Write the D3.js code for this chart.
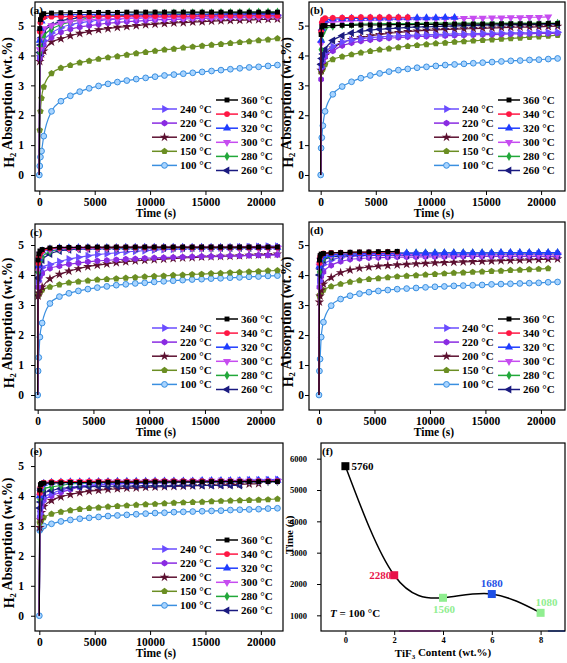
<!DOCTYPE html>
<html><head><meta charset="utf-8">
<script src="https://cdn.jsdelivr.net/npm/d3@7"></script>
<style>
body{margin:0;background:#fff;}
svg text{font-family:"Liberation Serif","Times New Roman",serif;font-weight:bold;fill:#000;}
</style></head><body>
<svg id="chart" width="567" height="663"></svg>
<script>
// ---------------- DATA ----------------
const times = [0,40,100,200,400,1100,1950,2800,3650,4500,5350,6200,7050,7900,8750,9600,10450,11300,12150,13000,13850,14700,15550,16400,17250,18100,18950,19800,20650,21500];
const tempLabels = ["360 °C","340 °C","320 °C","300 °C","280 °C","260 °C","240 °C","220 °C","200 °C","150 °C","100 °C"];
const xTicks = [0,5000,10000,15000,20000];
const yTicks = [0,1,2,3,4,5];

// panel (a)
const a360 = [0,4.9,5.2,5.35,5.4,5.42,5.43,5.43,5.44,5.44,5.44,5.44,5.44,5.45,5.45,5.45,5.45,5.45,5.45,5.45,5.45,5.45,5.45,5.45,5.45,5.45,5.45,5.45,5.45,5.45];
const a340 = [0,4.8,5.1,5.25,5.28,5.3,5.3,5.3,5.31,5.31,5.31,5.31,5.31,5.31,5.32,5.32,5.32,5.32,5.32,5.32,5.32,5.33,5.33,5.33,5.33,5.33,5.33,5.33,5.33,5.33];
const a320 = [0,4.5,4.9,5.15,5.3,5.35,5.36,5.37,5.37,5.37,5.38,5.38,5.38,5.38,5.38,5.38,5.38,5.38,5.38,5.38,5.38,5.38,5.38,5.38,5.38,5.38,5.38,5.38,5.38,5.38];
const a300 = [0,4.2,4.5,4.75,4.9,5.0,5.08,5.13,5.17,5.2,5.22,5.23,5.24,5.25,5.25,5.26,5.26,5.27,5.27,5.27,5.28,5.28,5.28,5.28,5.29,5.29,5.29,5.29,5.3,5.3];
const a280 = [0,4.1,4.3,4.5,4.65,4.88,5.03,5.12,5.2,5.25,5.29,5.32,5.35,5.37,5.38,5.39,5.4,5.41,5.42,5.42,5.43,5.43,5.43,5.44,5.44,5.44,5.45,5.45,5.45,5.45];
const a260 = [0,4.1,4.35,4.6,4.8,5.0,5.15,5.22,5.27,5.3,5.32,5.33,5.34,5.35,5.35,5.36,5.36,5.37,5.37,5.37,5.38,5.38,5.38,5.39,5.39,5.39,5.4,5.4,5.4,5.4];
const a240 = [0,4.0,4.2,4.35,4.5,4.75,4.93,5.03,5.1,5.14,5.18,5.2,5.22,5.24,5.25,5.26,5.27,5.28,5.29,5.3,5.3,5.31,5.31,5.32,5.32,5.33,5.33,5.34,5.34,5.35];
const a220 = [0,3.9,4.05,4.2,4.35,4.6,4.78,4.88,4.95,5.0,5.04,5.08,5.11,5.13,5.15,5.17,5.19,5.2,5.21,5.22,5.23,5.24,5.25,5.26,5.27,5.27,5.28,5.28,5.29,5.3];
const a200 = [0,3.8,3.95,4.05,4.15,4.45,4.56,4.66,4.74,4.8,4.86,4.9,4.94,4.97,5.0,5.03,5.05,5.07,5.09,5.1,5.12,5.13,5.15,5.16,5.17,5.18,5.19,5.2,5.21,5.22];
const a150 = [0,1.5,2.13,2.57,2.95,3.4,3.58,3.67,3.76,3.82,3.88,3.93,3.97,4.02,4.07,4.11,4.15,4.19,4.22,4.26,4.29,4.32,4.35,4.38,4.41,4.44,4.47,4.5,4.53,4.57];
const a100 = [0,0.3,0.6,0.8,1.3,2.13,2.47,2.65,2.79,2.9,2.98,3.05,3.11,3.16,3.21,3.25,3.29,3.33,3.36,3.39,3.42,3.45,3.48,3.51,3.54,3.57,3.6,3.62,3.65,3.68];

// panel (b)
const b360 = [0,4.7,4.95,5.0,5.0,5.0,5.01,5.01,5.02,5.02,5.02,5.03,5.03,5.03,5.04,5.04,5.04,5.04,5.05,5.05,5.05,5.05,5.05,5.06,5.06,5.06,5.06,5.06,5.07,5.07];
const b340 = [0,4.8,5.1,5.2,5.25,5.26,5.27,5.27,5.28,5.28,5.28,5.28,5.28,5.28];
const b320 = [0,4.5,4.9,5.1,5.18,5.22,5.23,5.24,5.24,5.25,5.25,5.25,5.26,5.26,5.26,5.26,5.26,5.27,5.27];
const b300 = [0,4.4,4.8,5.0,5.08,5.12,5.14,5.16,5.17,5.18,5.19,5.2,5.21,5.21,5.22,5.22,5.23,5.23,5.24,5.24,5.25,5.25,5.26,5.26,5.27,5.27,5.28,5.28,5.29];
const b280 = [0,4.2,4.5,4.75,4.9,4.98,5.02,5.04,5.05,5.06,5.06,5.07,5.07,5.07,5.07,5.08,5.08,5.08,5.08,5.08,5.08,5.08,5.08,5.08,5.08,5.08,5.08,5.08,5.08,5.08];
const b260 = [0,3.7,3.9,4.05,4.2,4.5,4.66,4.75,4.81,4.85,4.88,4.9,4.92,4.94,4.95,4.96,4.97,4.98,4.99,5.0,5.0,5.01,5.02,5.02,5.03,5.03,5.04,5.04,5.05,5.05];
const b240 = [0,3.6,3.8,3.95,4.1,4.3,4.45,4.52,4.57,4.6,4.62,4.64,4.66,4.67,4.68,4.69,4.7,4.71,4.72,4.72,4.73,4.74,4.74,4.75,4.75,4.76,4.76,4.77,4.77,4.78];
const b220 = [0,3.2,3.6,3.8,3.95,4.15,4.33,4.42,4.48,4.52,4.55,4.58,4.6,4.62,4.63,4.64,4.65,4.66,4.67,4.68,4.69,4.7,4.7,4.71,4.72,4.72,4.73,4.74,4.74,4.75];
const b200 = [0,3.5,3.7,3.85,4.0,4.25,4.43,4.53,4.6,4.66,4.7,4.74,4.77,4.8,4.82,4.84,4.86,4.87,4.88,4.89,4.9,4.91,4.92,4.93,4.94,4.95,4.95,4.96,4.97,4.98];
const b150 = [0,3.45,3.5,3.55,3.7,3.87,3.96,4.03,4.09,4.14,4.19,4.23,4.27,4.31,4.34,4.37,4.4,4.42,4.45,4.47,4.49,4.51,4.53,4.55,4.57,4.59,4.61,4.63,4.65,4.68];
const b100 = [0,0.9,1.25,1.65,2.13,2.7,2.96,3.12,3.24,3.33,3.4,3.46,3.51,3.55,3.59,3.62,3.65,3.68,3.7,3.72,3.74,3.76,3.78,3.8,3.82,3.83,3.85,3.86,3.88,3.9];

// panel (c)
const c360 = [0,4.5,4.7,4.8,4.85,4.9,4.92,4.92,4.92,4.93,4.93,4.93,4.93,4.93,4.93,4.93,4.93,4.93,4.93,4.93,4.93,4.93,4.93,4.93,4.93,4.93,4.93,4.93,4.93,4.93];
const c340 = [0,4.4,4.6,4.7,4.8,4.88,4.9,4.9,4.91,4.91,4.91,4.91,4.92,4.92,4.92,4.92,4.92,4.92,4.92,4.92,4.92,4.92,4.92,4.92,4.92,4.92,4.92,4.92,4.92,4.92];
const c320 = [0,4.3,4.55,4.7,4.8,4.87,4.9,4.9,4.91,4.91,4.91,4.91,4.91,4.92,4.92,4.92,4.92,4.92,4.92,4.92,4.92,4.92,4.92,4.92,4.92,4.92,4.92,4.92,4.92,4.92];
const c300 = [0,4.2,4.5,4.7,4.8,4.85,4.88,4.88,4.89,4.89,4.89,4.9,4.9,4.9,4.9,4.9,4.9,4.9,4.9,4.9,4.9,4.9,4.9,4.9,4.9,4.9,4.9,4.9,4.9,4.9];
const c280 = [0,4.1,4.25,4.45,4.6,4.78,4.85,4.87,4.88,4.88,4.88,4.88,4.88,4.88,4.88,4.89,4.89,4.89,4.89,4.89,4.89,4.89,4.89,4.89,4.89,4.89,4.89];
const c260 = [0,3.9,4.1,4.3,4.5,4.7,4.8,4.84,4.86,4.87,4.88,4.88,4.89,4.89,4.89,4.9,4.9,4.9,4.9,4.9,4.9,4.9,4.9,4.9,4.9,4.9,4.9,4.9,4.9,4.9];
const c240 = [0,3.8,4.0,4.15,4.25,4.35,4.45,4.53,4.59,4.64,4.68,4.71,4.74,4.77,4.79,4.81,4.83,4.85,4.86,4.87,4.88,4.89,4.9,4.91,4.92,4.93,4.94,4.95,4.96,4.96];
const c220 = [0,3.6,3.8,3.95,4.05,4.22,4.3,4.36,4.4,4.44,4.47,4.49,4.51,4.53,4.54,4.56,4.57,4.58,4.59,4.6,4.61,4.62,4.62,4.63,4.64,4.64,4.65,4.66,4.66,4.67];
const c200 = [0,3.3,3.4,3.5,3.6,3.87,4.02,4.13,4.21,4.28,4.33,4.37,4.41,4.44,4.47,4.49,4.51,4.53,4.55,4.57,4.58,4.6,4.61,4.62,4.63,4.64,4.66,4.67,4.68,4.7];
const c150 = [0,3.3,3.35,3.42,3.5,3.6,3.68,3.74,3.78,3.81,3.84,3.86,3.88,3.9,3.92,3.94,3.96,3.97,3.99,4.0,4.02,4.03,4.05,4.06,4.08,4.09,4.11,4.12,4.14,4.15];
const c100 = [0,0.8,1.25,1.93,2.4,3.05,3.28,3.39,3.47,3.53,3.58,3.62,3.66,3.69,3.72,3.74,3.77,3.79,3.81,3.83,3.85,3.86,3.88,3.89,3.91,3.92,3.94,3.95,3.97,3.98];

// panel (d)
const d360 = [0,4.5,4.65,4.7,4.72,4.74,4.75,4.76,4.77,4.77,4.78,4.78,4.79];
const d340 = [0,4.4,4.6,4.68,4.72,4.74,4.75,4.75,4.76,4.76,4.76,4.77,4.77];
const d320 = [0,4.3,4.5,4.6,4.65,4.68,4.7,4.71,4.71,4.72,4.72,4.72,4.73,4.73,4.73,4.73,4.73,4.74,4.74,4.74,4.74,4.74,4.74,4.75,4.75,4.75,4.75,4.75,4.75,4.75];
const d300 = [0,4.3,4.5,4.6,4.65,4.66,4.67,4.67,4.68,4.68,4.68,4.68,4.68,4.68,4.68,4.68,4.68,4.68,4.68,4.68,4.68,4.68,4.68,4.68,4.68,4.68,4.68,4.68,4.68,4.68];
const d280 = [0,4.1,4.3,4.45,4.55,4.62,4.67,4.7,4.71,4.72,4.72,4.73,4.73,4.73,4.74,4.74,4.74,4.74,4.74,4.74,4.74,4.74,4.74,4.74,4.74,4.74,4.74,4.74,4.74,4.74];
const d260 = [0,4.0,4.2,4.35,4.5,4.6,4.63,4.65,4.66,4.66,4.67,4.67,4.67,4.67,4.68,4.68,4.68,4.68,4.68,4.68,4.68,4.68,4.68,4.68,4.68,4.68,4.68,4.68,4.68,4.68];
const d240 = [0,3.8,4.0,4.2,4.35,4.5,4.58,4.62,4.64,4.65,4.66,4.66,4.67,4.67,4.67,4.68,4.68,4.68,4.68,4.69,4.69,4.69,4.69,4.69,4.7,4.7,4.7,4.7,4.7,4.7];
const d220 = [0,3.6,3.8,3.95,4.1,4.32,4.45,4.52,4.55,4.57,4.58,4.59,4.6,4.6,4.6,4.61,4.61,4.61,4.61,4.62,4.62,4.62,4.62,4.62,4.62,4.62,4.62,4.62,4.62,4.62];
const d200 = [0,3.1,3.3,3.5,3.7,3.92,4.08,4.17,4.23,4.27,4.3,4.32,4.34,4.36,4.38,4.39,4.41,4.42,4.43,4.44,4.45,4.46,4.47,4.48,4.49,4.5,4.51,4.52,4.53,4.54];
const d150 = [0,3.3,3.35,3.42,3.5,3.62,3.7,3.77,3.82,3.86,3.89,3.92,3.95,3.97,3.99,4.01,4.03,4.05,4.07,4.08,4.1,4.11,4.13,4.14,4.16,4.17,4.19,4.2,4.22];
const d100 = [0,0.8,1.2,1.93,2.43,2.98,3.2,3.31,3.38,3.43,3.47,3.5,3.53,3.55,3.57,3.59,3.61,3.62,3.64,3.65,3.66,3.67,3.69,3.7,3.71,3.72,3.73,3.74,3.76,3.77];

// panel (e)
const e360 = [0,4.2,4.38,4.42,4.43,4.44,4.44,4.45,4.45,4.45,4.46,4.46,4.46,4.46,4.46,4.47,4.47,4.47,4.47,4.47,4.47,4.47,4.48,4.48,4.48,4.48,4.48,4.48,4.48,4.48];
const e340 = [0,4.1,4.3,4.4,4.45,4.47,4.48,4.48,4.48,4.49,4.49,4.49,4.49,4.49,4.49,4.49,4.5,4.5,4.5,4.5,4.5,4.5,4.5,4.5,4.5,4.5,4.5,4.5,4.5,4.5];
const e320 = [0,4.0,4.25,4.38,4.42,4.45,4.46,4.47,4.47,4.48,4.48,4.48,4.49,4.49,4.49,4.49,4.5,4.5,4.5,4.5,4.5,4.51,4.51,4.51,4.51,4.51,4.52,4.52,4.52,4.52];
const e300 = [0,4.0,4.2,4.35,4.4,4.45,4.46,4.47,4.47,4.47,4.48,4.48,4.48,4.48,4.48,4.49,4.49,4.49,4.49,4.49,4.49,4.49,4.5,4.5,4.5,4.5,4.5,4.5,4.5,4.5];
const e280 = [0,3.9,4.1,4.2,4.25,4.3,4.35,4.4,4.42,4.43,4.44,4.45,4.45,4.45,4.46,4.46,4.46,4.46,4.47,4.47,4.47,4.47,4.47,4.47,4.48,4.48,4.48,4.48,4.48,4.48];
const e260 = [0,3.6,3.8,4.0,4.1,4.18,4.25,4.28,4.3,4.31,4.32,4.32,4.33,4.33,4.33,4.34,4.34,4.34,4.34,4.35,4.35,4.35,4.35,4.35,4.35,4.35];
const e240 = [0,3.4,3.6,3.8,3.95,4.08,4.2,4.28,4.33,4.36,4.38,4.4,4.41,4.42,4.43,4.44,4.45,4.46,4.47,4.47,4.48,4.49,4.5,4.5,4.51,4.52,4.53,4.53,4.54,4.55];
const e220 = [0,3.3,3.5,3.7,3.85,4.0,4.12,4.22,4.3,4.34,4.37,4.39,4.4,4.41,4.42,4.43,4.44,4.44,4.45,4.45,4.46,4.46,4.47,4.47,4.48,4.48,4.49,4.49,4.5,4.5];
const e200 = [0,2.95,3.2,3.45,3.65,3.85,3.97,4.05,4.11,4.16,4.19,4.22,4.24,4.26,4.27,4.29,4.3,4.31,4.32,4.33,4.34,4.35,4.36,4.37,4.38,4.39,4.4,4.41];
const e150 = [0,3.1,3.15,3.2,3.28,3.4,3.47,3.52,3.56,3.59,3.61,3.64,3.66,3.68,3.7,3.72,3.73,3.75,3.77,3.78,3.79,3.8,3.82,3.83,3.84,3.85,3.86,3.87,3.88,3.9];
const e100 = [0,2.85,2.9,2.95,3.0,3.07,3.15,3.2,3.24,3.27,3.3,3.33,3.35,3.37,3.39,3.41,3.43,3.44,3.46,3.47,3.48,3.49,3.5,3.51,3.53,3.54,3.55,3.56,3.58,3.59];

// panel (f)
const fContent = [0,2,4,6,8];
const fTime = [5760,2280,1560,1680,1080];
const fLabels = ["5760","2280","1560","1680","1080"];
const fXTicks = [0,2,4,6,8];
const fYTicks = [1000,2000,3000,4000,5000,6000];

// ---------------- STYLES ----------------
function poly(n, rot){
  return {draw(ctx,size){
    const r = Math.sqrt(size/(0.5*n*Math.sin(2*Math.PI/n)));
    for(let i=0;i<n;i++){const a=rot+2*Math.PI*i/n;const px=r*Math.sin(a),py=-r*Math.cos(a);i?ctx.lineTo(px,py):ctx.moveTo(px,py);}
    ctx.closePath();
  }};
}
const style = {
  "360 °C":{c:"#000000", sym:d3.symbolSquare, size:24, rot:0},
  "340 °C":{c:"#ff1744", sym:d3.symbolCircle, size:26, rot:0},
  "320 °C":{c:"#1f3cff", sym:d3.symbolTriangle, size:28, rot:0},
  "300 °C":{c:"#c64cf0", sym:d3.symbolTriangle, size:28, rot:180},
  "280 °C":{c:"#22a83a", sym:d3.symbolDiamond, size:24, rot:0},
  "260 °C":{c:"#1a1a80", sym:d3.symbolTriangle, size:28, rot:-90},
  "240 °C":{c:"#6a4cff", sym:d3.symbolTriangle, size:28, rot:90},
  "220 °C":{c:"#8a2be2", sym:poly(6,0), size:28, rot:0},
  "200 °C":{c:"#5c1030", sym:d3.symbolStar, size:28, rot:0},
  "150 °C":{c:"#6b8e23", sym:poly(5,0), size:28, rot:0},
  "100 °C":{c:"#3a8fe0", sym:d3.symbolCircle, size:26, rot:0, fill:"#a8d4ff"}
};
const drawOrder = ["100 °C","150 °C","200 °C","220 °C","240 °C","260 °C","280 °C","300 °C","320 °C","340 °C","360 °C"];
const legLeft = ["240 °C","220 °C","200 °C","150 °C","100 °C"];
const legRight = ["360 °C","340 °C","320 °C","300 °C","280 °C","260 °C"];

const panels = [
  {label:"(a)", box:[35,2,283,191], xDom:[-390,22000], yDom:[-0.536,5.79], pad:7, labDx:-5, ytx:9,
   data:{"360 °C":a360,"340 °C":a340,"320 °C":a320,"300 °C":a300,"280 °C":a280,"260 °C":a260,"240 °C":a240,"220 °C":a220,"200 °C":a200,"150 °C":a150,"100 °C":a100}},
  {label:"(b)", box:[309,2,565,191], xDom:[-1060,22170], yDom:[-0.536,5.79], pad:1, labDx:1, ytx:288,
   data:{"360 °C":b360,"340 °C":b340,"320 °C":b320,"300 °C":b300,"280 °C":b280,"260 °C":b260,"240 °C":b240,"220 °C":b220,"200 °C":b200,"150 °C":b150,"100 °C":b100}},
  {label:"(c)", box:[35,224,283,410], xDom:[-240,22000], yDom:[-0.5,5.7], pad:7, labDx:-5, ytx:9,
   data:{"360 °C":c360,"340 °C":c340,"320 °C":c320,"300 °C":c300,"280 °C":c280,"260 °C":c260,"240 °C":c240,"220 °C":c220,"200 °C":c200,"150 °C":c150,"100 °C":c100}},
  {label:"(d)", box:[309,222,565,410], xDom:[-900,22170], yDom:[-0.5,5.77], pad:1, labDx:1, ytx:288,
   data:{"360 °C":d360,"340 °C":d340,"320 °C":d320,"300 °C":d300,"280 °C":d280,"260 °C":d260,"240 °C":d240,"220 °C":d220,"200 °C":d200,"150 °C":d150,"100 °C":d100}},
  {label:"(e)", box:[35,443,283,631], xDom:[-390,22000], yDom:[-0.51,5.77], pad:7, labDx:-5, ytx:9,
   data:{"360 °C":e360,"340 °C":e340,"320 °C":e320,"300 °C":e300,"280 °C":e280,"260 °C":e260,"240 °C":e240,"220 °C":e220,"200 °C":e200,"150 °C":e150,"100 °C":e100}}
];

const svg = d3.select("#chart");
const defs = svg.append("defs");
const fmtInt = d3.format("d");

function styleAxis(g, fs){
  g.attr("font-family",null).attr("font-size",null);
  g.selectAll("text").style("font-size",fs+"px").attr("fill","#000");
  g.selectAll("line").attr("stroke","#000").attr("stroke-width",1);
  g.select(".domain").remove();
}

function marker(sel, t){
  const s = style[t];
  sel.attr("d", d3.symbol(s.sym, s.size)())
     .attr("fill", s.fill || s.c)
     .attr("stroke", s.fill ? s.c : "none")
     .attr("stroke-width", 1);
}

panels.forEach((p,pi)=>{
  const [L,Tp,R,B] = p.box;
  const x = d3.scaleLinear().domain(p.xDom).range([L,R]);
  const y = d3.scaleLinear().domain(p.yDom).range([B,Tp]);
  const cid = "clip"+pi;
  defs.append("clipPath").attr("id",cid).append("rect").attr("x",L).attr("y",Tp).attr("width",R-L).attr("height",B-Tp);
  const g = svg.append("g");
  const plot = g.append("g").attr("clip-path",`url(#${cid})`);
  const line = d3.line().x(d=>x(d[0])).y(d=>y(d[1])).curve(d3.curveMonotoneX);
  drawOrder.forEach(t=>{
    const pts = p.data[t].map((v,i)=>[times[i],v]);
    plot.append("path").attr("d",line(pts)).attr("fill","none").attr("stroke",style[t].c).attr("stroke-width",1.2);
    plot.selectAll(null).data(pts.filter((d,i)=>i>0 || t==="100 °C")).join("path")
      .attr("transform",d=>`translate(${x(d[0])},${y(d[1])}) rotate(${style[t].rot})`)
      .call(marker,t);
  });
  // axes
  const ax = g.append("g").attr("transform",`translate(0,${B})`)
    .call(d3.axisBottom(x).tickValues(xTicks).tickFormat(fmtInt).tickSize(4).tickSizeOuter(0).tickPadding(3));
  styleAxis(ax,11.5);
  const ay = g.append("g").attr("transform",`translate(${L},0)`)
    .call(d3.axisLeft(y).tickValues(yTicks).tickFormat(fmtInt).tickSize(4).tickSizeOuter(0).tickPadding(p.pad));
  styleAxis(ay,11.5);
  g.append("rect").attr("x",L).attr("y",Tp).attr("width",R-L).attr("height",B-Tp)
    .attr("fill","none").attr("stroke","#000").attr("stroke-width",1.2);
  // panel label
  g.append("text").attr("x",L+p.labDx).attr("y",Tp+12).style("font-size","11px").text(p.label);
  // axis titles
  g.append("text").attr("x",(L+R)/2-3).attr("y",B+26).attr("text-anchor","middle").style("font-size","11.5px").text("Time (s)");
  const yt = g.append("text").attr("transform",`translate(${p.ytx},${(Tp+B)/2+6}) rotate(-90)`)
    .attr("text-anchor","middle").attr("dy","0.35em").style("font-size","14px");
  yt.append("tspan").text("H");
  yt.append("tspan").attr("dy","0.3em").style("font-size","8.5px").text("2");
  yt.append("tspan").attr("dy","-0.3em").text(" Absorption (wt.%)");
  // legend
  const leg = g.append("g");
  const cols = [{items:legLeft, x1:R-131, x2:R-106, tx:R-103, y0:B-82},
                {items:legRight, x1:R-67, x2:R-45, tx:R-42, y0:B-91}];
  cols.forEach(col=>{
    col.items.forEach((t,i)=>{
      const yy = col.y0 + i*14.1;
      leg.append("line").attr("x1",col.x1).attr("x2",col.x2).attr("y1",yy).attr("y2",yy)
        .attr("stroke",style[t].c).attr("stroke-width",1.5);
      leg.append("path").attr("transform",`translate(${(col.x1+col.x2)/2},${yy}) rotate(${style[t].rot})`).call(marker,t);
      leg.append("text").attr("x",col.tx).attr("y",yy).attr("dy","0.35em").style("font-size","11px").text(t);
    });
  });
});

// ---------------- PANEL (f) ----------------
(function(){
  const L=321,Tp=443,R=565,B=631;
  const x = d3.scaleLinear().domain([-1,9]).range([L,R]);
  const y = d3.scaleLinear().domain([500,6500]).range([B,Tp]);
  const g = svg.append("g");
  const pts = fContent.map((c,i)=>[c,fTime[i]]);
  g.append("path").attr("d",d3.line().x(d=>x(d[0])).y(d=>y(d[1])).curve(d3.curveNatural)(pts))
    .attr("fill","none").attr("stroke","#000").attr("stroke-width",1.5);
  const cols = ["#000000","#e8124a","#90ee90","#1e50e6","#90ee90"];
  g.selectAll(null).data(pts).join("rect")
    .attr("x",d=>x(d[0])-4).attr("y",d=>y(d[1])-4).attr("width",8).attr("height",8)
    .attr("fill",(d,i)=>cols[i]);
  const off = [{dx:6,dy:0,a:"start"},{dx:-3,dy:0,a:"end"},{dx:1,dy:11,a:"middle"},{dx:0,dy:-11,a:"middle"},{dx:6,dy:-11,a:"middle"}];
  g.selectAll(null).data(pts).join("text")
    .attr("x",(d,i)=>x(d[0])+off[i].dx).attr("y",(d,i)=>y(d[1])+off[i].dy).attr("dy","0.35em")
    .attr("text-anchor",(d,i)=>off[i].a).style("font-size","11px")
    .style("fill",(d,i)=>cols[i]).text((d,i)=>fLabels[i]);
  // coloured segments on bottom axis (as in the reference)
  g.append("line").attr("x1",x(2.2)).attr("x2",x(3.9)).attr("y1",B).attr("y2",B).attr("stroke","#e040e0").attr("stroke-width",1.5);
  g.append("line").attr("x1",x(8.3)).attr("x2",R).attr("y1",B).attr("y2",B).attr("stroke","#3060f0").attr("stroke-width",1.5);
  const ax = g.append("g").attr("transform",`translate(0,${B})`)
    .call(d3.axisBottom(x).tickValues(fXTicks).tickFormat(fmtInt).tickSize(4).tickSizeOuter(0).tickPadding(2));
  styleAxis(ax,8.5);
  const ay = g.append("g").attr("transform",`translate(${L},0)`)
    .call(d3.axisLeft(y).tickValues(fYTicks).tickFormat(fmtInt).tickSize(4).tickSizeOuter(0).tickPadding(10));
  styleAxis(ay,8.5);
  g.append("rect").attr("x",L).attr("y",Tp).attr("width",R-L).attr("height",B-Tp)
    .attr("fill","none").attr("stroke","#000").attr("stroke-width",1.2);
  g.append("text").attr("x",L+1).attr("y",Tp+12).style("font-size","11px").text("(f)");
  const tt = g.append("text").attr("x",L+9).attr("y",y(1000)-2).attr("dy","0.35em").style("font-size","11px");
  tt.append("tspan").style("font-style","italic").text("T");
  tt.append("tspan").text(" = 100 °C");
  g.append("text").attr("transform",`translate(289,${(Tp+B)/2-2}) rotate(-90)`).attr("text-anchor","middle")
    .attr("dy","0.35em").style("font-size","11px").text("Time (s)");
  const xt = g.append("text").attr("x",(L+R)/2).attr("y",B+26).attr("text-anchor","middle").style("font-size","11px");
  xt.append("tspan").text("TiF");
  xt.append("tspan").attr("dy","0.3em").style("font-size","7px").text("3");
  xt.append("tspan").attr("dy","-0.3em").text(" Content (wt.%)");
})();
</script>
</body></html>
